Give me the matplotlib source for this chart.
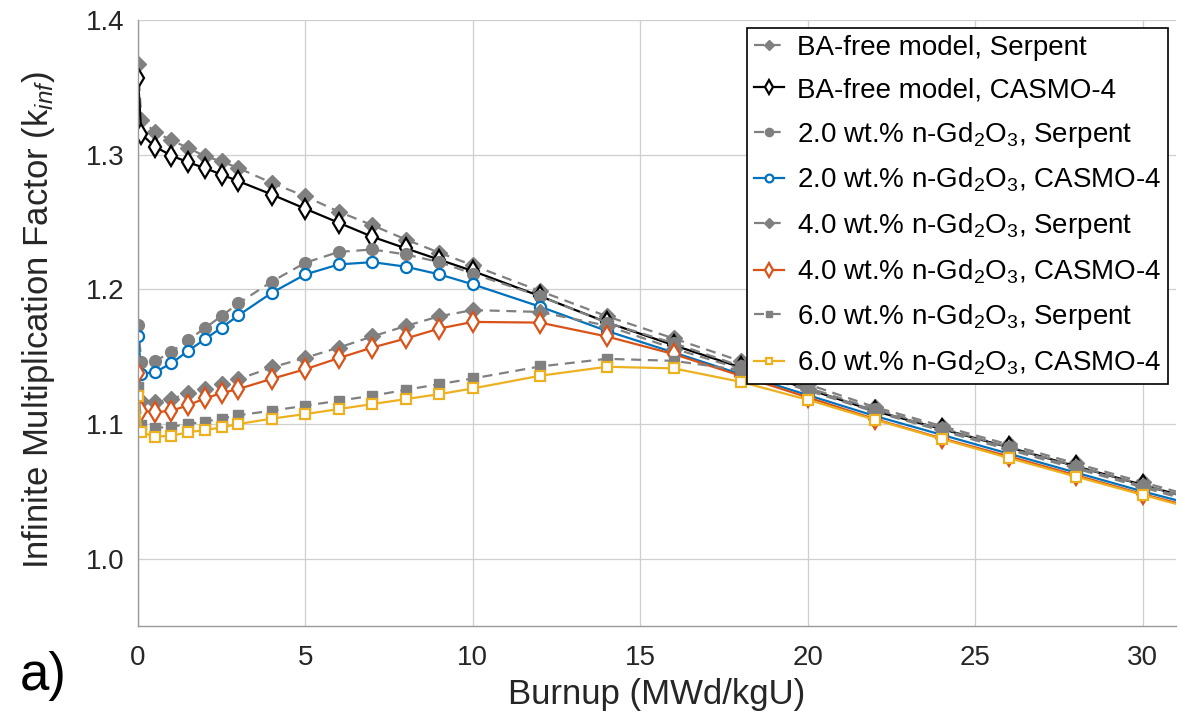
import matplotlib
matplotlib.use("Agg")
import matplotlib.pyplot as plt

plt.rcParams['font.family'] = ['Liberation Sans', 'DejaVu Sans']
plt.rcParams['mathtext.fontset'] = 'custom'
plt.rcParams['mathtext.rm'] = 'Liberation Sans'
plt.rcParams['mathtext.it'] = 'Liberation Sans:italic'
plt.rcParams['mathtext.bf'] = 'Liberation Sans:bold'

burnup = [0, 0.1, 0.5, 1, 1.5, 2, 2.5, 3, 4, 5, 6, 7, 8, 9, 10, 12, 14, 16,
          18, 20, 22, 24, 26, 28, 30, 32]

ba_free_serpent = [1.367, 1.326, 1.317, 1.3106, 1.305, 1.2988, 1.295, 1.290, 1.279, 1.269,
                   1.2576, 1.2476, 1.237, 1.2272, 1.2178, 1.1988, 1.180, 1.1635,
                   1.1467, 1.1296, 1.1126, 1.0985, 1.0848, 1.0708, 1.0568, 1.043]
ba_free_casmo = [1.357, 1.3153, 1.306, 1.2993, 1.2943, 1.290, 1.2852, 1.2803, 1.2704, 1.2598,
                 1.2494, 1.239, 1.2304, 1.222, 1.2136, 1.195, 1.1755, 1.1585,
                 1.142, 1.126, 1.1096, 1.0963, 1.0827, 1.0687, 1.0548, 1.041]
gd2_serpent = [1.1733, 1.146, 1.1465, 1.1536, 1.1625, 1.1712, 1.1803, 1.1896, 1.2058, 1.2198,
               1.2278, 1.2296, 1.2259, 1.2202, 1.2116, 1.195, 1.1753, 1.160,
               1.143, 1.127, 1.111, 1.097, 1.083, 1.069, 1.055, 1.041]
gd2_casmo = [1.1654, 1.1375, 1.1383, 1.1452, 1.1543, 1.163, 1.1716, 1.1807, 1.1975, 1.2111,
             1.2185, 1.2202, 1.2168, 1.2111, 1.2037, 1.1872, 1.1691, 1.1531,
             1.137, 1.1215, 1.106, 1.092, 1.078, 1.064, 1.050, 1.037]
gd4_serpent = [1.1452, 1.117, 1.116, 1.1185, 1.123, 1.1262, 1.1296, 1.1333, 1.142, 1.1492,
               1.1568, 1.165, 1.1728, 1.180, 1.1846, 1.1832, 1.173, 1.156,
               1.141, 1.126, 1.110, 1.096, 1.082, 1.068, 1.054, 1.040]
gd4_casmo = [1.1378, 1.1098, 1.1087, 1.1098, 1.114, 1.119, 1.123, 1.126, 1.1336, 1.1407,
             1.149, 1.1568, 1.1635, 1.1709, 1.1758, 1.1753, 1.165, 1.1519,
             1.1358, 1.1198, 1.1037, 1.0894, 1.076, 1.062, 1.048, 1.035]
gd6_serpent = [1.1272, 1.0993, 1.097, 1.098, 1.100, 1.1018, 1.104, 1.1065, 1.1099, 1.1136,
               1.1173, 1.121, 1.1254, 1.1296, 1.1338, 1.1427, 1.1484, 1.1469,
               1.140, 1.125, 1.109, 1.095, 1.081, 1.067, 1.053, 1.039]
gd6_casmo = [1.1205, 1.0939, 1.0906, 1.0913, 1.0939, 1.0955, 1.0975, 1.100, 1.104, 1.1074,
             1.1111, 1.1148, 1.1185, 1.1222, 1.1264, 1.1358, 1.1425, 1.1413,
             1.1313, 1.118, 1.1032, 1.0889, 1.0748, 1.0610, 1.0474, 1.034]

labels = ['BA-free model, Serpent', 'BA-free model, CASMO-4',
          r'2.0 wt.% n-Gd$_2$O$_3$, Serpent', r'2.0 wt.% n-Gd$_2$O$_3$, CASMO-4',
          r'4.0 wt.% n-Gd$_2$O$_3$, Serpent', r'4.0 wt.% n-Gd$_2$O$_3$, CASMO-4',
          r'6.0 wt.% n-Gd$_2$O$_3$, Serpent', r'6.0 wt.% n-Gd$_2$O$_3$, CASMO-4']
xticks = [0, 5, 10, 15, 20, 25, 30]
yticks = [1.0, 1.1, 1.2, 1.3, 1.4]

gray = (0.5, 0.5, 0.5)
blue = '#0072BD'
orange = '#D95319'
yellow = '#EDB120'

fig = plt.figure(figsize=(11.81, 7.2), dpi=100)
ax = fig.add_axes([138/1181, 1-626/720, 1038/1181, 606/720])

lw = 1.6
serp = dict(color=gray, lw=lw, dashes=(4.5, 3), markerfacecolor=gray, markeredgecolor=gray)
cas = dict(lw=lw, markerfacecolor='white', markeredgewidth=1.6)

series = [
    (ba_free_serpent, dict(serp, marker='D', ms=8)),
    (ba_free_casmo, dict(cas, color='black', marker='d', ms=10.5, markeredgecolor='black')),
    (gd2_serpent, dict(serp, marker='o', ms=8.5)),
    (gd2_casmo, dict(cas, color=blue, marker='o', ms=8, markeredgecolor=blue)),
    (gd4_serpent, dict(serp, marker='D', ms=8)),
    (gd4_casmo, dict(cas, color=orange, marker='d', ms=10.5, markeredgecolor=orange)),
    (gd6_serpent, dict(serp, marker='s', ms=7)),
    (gd6_casmo, dict(cas, color=yellow, marker='s', ms=6.5, markeredgecolor=yellow)),
]
for (vals, kw), lab in zip(series, labels):
    ax.plot(burnup, vals, label=lab, **kw)

ax.set_xlim(0, 31)
ax.set_ylim(0.95, 1.4)
ax.set_xticks(xticks)
ax.set_yticks(yticks)
ax.set_yticklabels([f'{v:.1f}' for v in yticks])
ax.grid(True, color='#cfcfcf', lw=0.9)
ax.set_axisbelow(True)
for s in ['top', 'right']:
    ax.spines[s].set_visible(False)
for s in ['left', 'bottom']:
    ax.spines[s].set_color('#9a9a9a')
    ax.spines[s].set_linewidth(1.0)
ax.tick_params(axis='both', labelsize=20, colors='#262626', length=0, pad=14)
ax.tick_params(axis='y', pad=10)

ax.set_xlabel('Burnup (MWd/kgU)', fontsize=25, color='#262626')
ax.set_ylabel(r'Infinite Multiplication Factor (k$_{\mathit{inf}}$)', fontsize=25, color='#262626')
ax.xaxis.set_label_coords(0.5, -0.085)
ax.yaxis.set_label_coords(-0.078, 0.505)

leg = ax.legend(loc='upper right', bbox_to_anchor=(0.992, 0.987), borderaxespad=0,
                fontsize=20, frameon=True, fancybox=False, framealpha=1,
                edgecolor='black', handlelength=1.1, handletextpad=0.45,
                labelspacing=0.59, borderpad=0.25, markerscale=0.7)
leg.get_frame().set_linewidth(1.2)

fig.text(20/1181, 1-690/720, 'a)', fontsize=38, ha='left', va='baseline', color='black')

fig.savefig('out.png', dpi=100)
